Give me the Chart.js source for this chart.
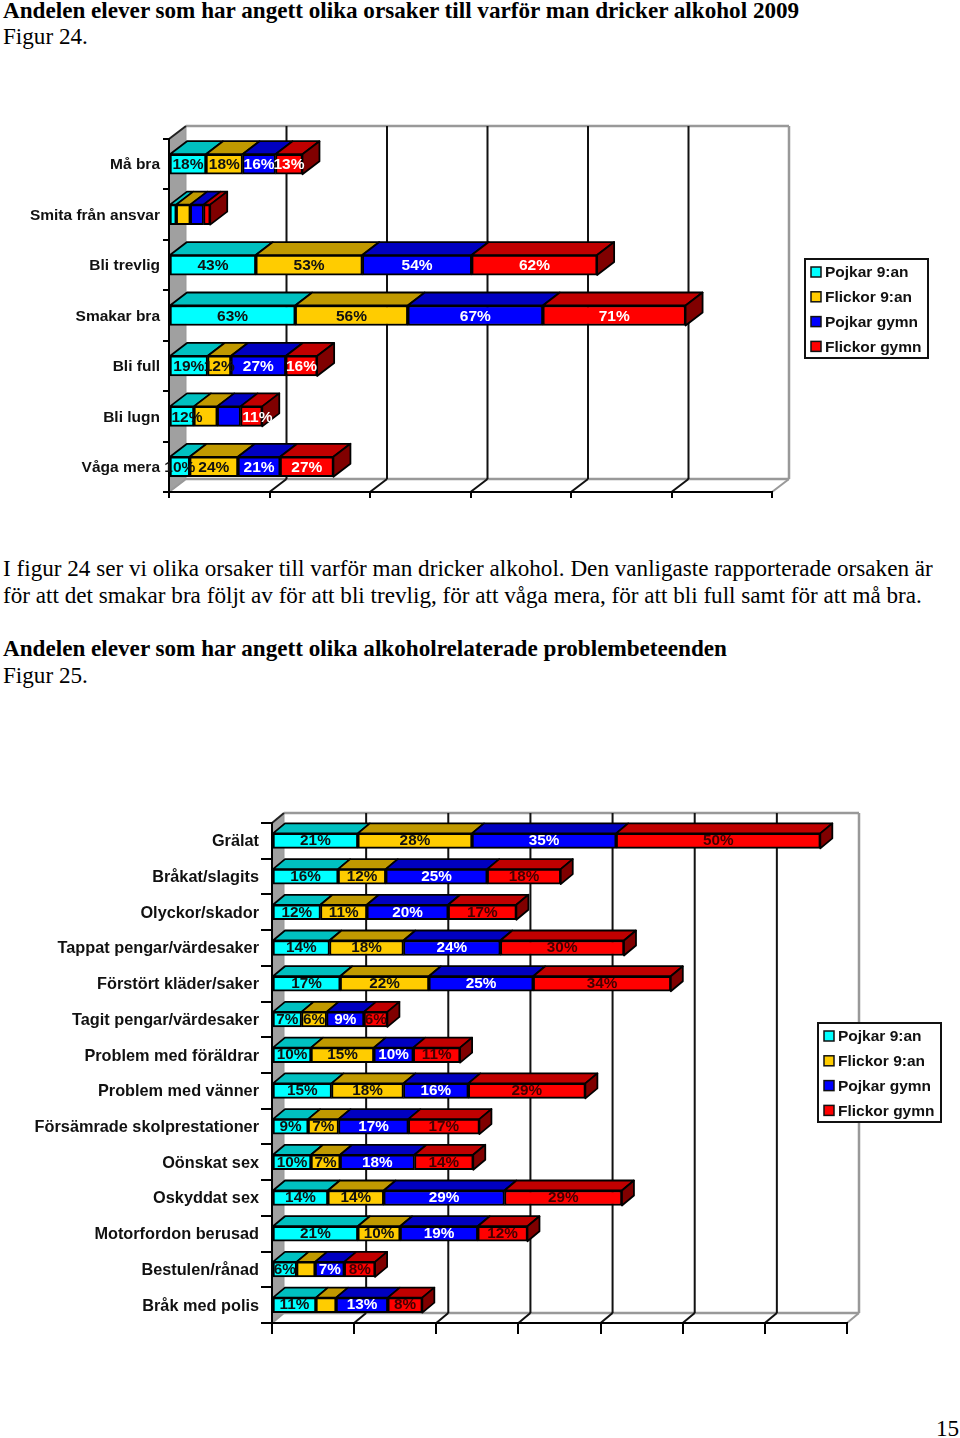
<!DOCTYPE html>
<html>
<head>
<meta charset="utf-8">
<script src="https://cdn.jsdelivr.net/npm/chart.js@4"></script>
<style>
html, body { margin: 0; padding: 0; background: #fff; }
#page { position: relative; width: 960px; height: 1438px; overflow: hidden; }
canvas { position: absolute; left: 0; }
.t { position: absolute; left: 3px; white-space: nowrap; font: 23.15px/26px "Liberation Serif", serif; color: #000; }
.b { font-weight: bold; }
</style>
</head>
<body>
<div id="page">
    <div class="t b" style="top:-3px">Andelen elever som har angett olika orsaker till varför man dricker alkohol 2009</div>
    <div class="t" style="top:23px">Figur 24.</div>
    <canvas id="chart1" width="960" height="410" style="top:100px"></canvas>
    <div class="t" style="top:555px">I figur 24 ser vi olika orsaker till varför man dricker alkohol. Den vanligaste rapporterade orsaken är</div>
    <div class="t" style="top:582px">för att det smakar bra följt av för att bli trevlig, för att våga mera, för att bli full samt för att må bra.</div>
    <div class="t b" style="top:635px">Andelen elever som har angett olika alkoholrelaterade problembeteenden</div>
    <div class="t" style="top:662px">Figur 25.</div>
    <canvas id="chart2" width="960" height="560" style="top:790px"></canvas>
    <div class="t" style="left:936px;top:1415px">15</div>
</div>
<script>
//======================================================================================================================
// Data
//======================================================================================================================

var seriesNames = ['Pojkar 9:an', 'Flickor 9:an', 'Pojkar gymn', 'Flickor gymn'];
var frontColors = ['#00FFFF', '#FFCC00', '#0000FF', '#FF0000'];
var topColors = ['#00C0C0', '#C09900', '#0000C0', '#C00000'];
var sideColors = ['#008080', '#806600', '#000080', '#800000'];

// Figur 24
var reasons = ['Må bra', 'Smita från ansvar', 'Bli trevlig', 'Smakar bra', 'Bli full', 'Bli lugn', 'Våga mera'];
var reasonsPojkar9 = [18.4, 3.6, 43.2, 62.8, 19.2, 12.4, 10.3];
var reasonsFlickor9 = [18.2, 7.0, 53.0, 56.0, 11.6, 11.6, 24.0];
var reasonsPojkarGymn = [16.4, 6.6, 54.4, 67.2, 27.3, 11.6, 21.0];
var reasonsFlickorGymn = [13.4, 3.3, 62.4, 71.0, 15.6, 10.8, 26.5];
var reasonsTicks = [0, 50, 100, 150, 200, 250, 300];
// "category:series" pairs printed without a value in the figure
var reasonsNoLabel = ['1:0', '1:1', '1:2', '1:3', '5:1', '5:2'];

// Figur 25
var problems = ['Grälat', 'Bråkat/slagits', 'Olyckor/skador', 'Tappat pengar/värdesaker', 'Förstört kläder/saker',
    'Tagit pengar/värdesaker', 'Problem med föräldrar', 'Problem med vänner', 'Försämrade skolprestationer',
    'Oönskat sex', 'Oskyddat sex', 'Motorfordon berusad', 'Bestulen/rånad', 'Bråk med polis'];
var problemsPojkar9 = [20.9, 16.1, 11.8, 14.0, 16.6, 7.2, 9.5, 14.5, 8.8, 9.5, 13.6, 20.9, 6.0, 10.7];
var problemsFlickor9 = [27.8, 11.6, 11.3, 18.0, 21.6, 6.1, 15.3, 17.5, 7.4, 7.1, 13.6, 10.3, 4.5, 4.9];
var problemsPojkarGymn = [35.1, 24.7, 19.8, 23.6, 25.4, 9.1, 9.6, 15.8, 17.0, 18.1, 29.4, 18.9, 7.1, 12.6];
var problemsFlickorGymn = [49.7, 17.9, 16.6, 30.1, 33.5, 5.7, 11.4, 28.5, 17.3, 14.3, 28.6, 12.1, 7.5, 8.4];
var problemsTicks = [0, 20, 40, 60, 80, 100, 120, 140];
var problemsNoLabel = ['12:1', '13:1'];

//======================================================================================================================
// 3D look: walls, bar sides, value labels and legend box
//======================================================================================================================

var fontName = '"Liberation Sans", Arial, sans-serif';

function polygon(ctx, points, fill, stroke, width) {
    ctx.beginPath();
    points.forEach(function(p, i) {
        if (i === 0) ctx.moveTo(p[0], p[1]); else ctx.lineTo(p[0], p[1]);
    });
    ctx.closePath();
    ctx.fillStyle = fill;
    ctx.fill();
    ctx.lineWidth = width;
    ctx.strokeStyle = stroke;
    ctx.lineJoin = 'round';
    ctx.stroke();
}

function line(ctx, x1, y1, x2, y2, color, width) {
    ctx.beginPath();
    ctx.moveTo(x1, y1);
    ctx.lineTo(x2, y2);
    ctx.strokeStyle = color;
    ctx.lineWidth = width;
    ctx.stroke();
}

var bar3d = {
    id: 'bar3d',
    beforeDraw: function(chart, args, opts) {
        var ctx = chart.ctx, a = chart.chartArea, dx = opts.dx, dy = opts.dy, xs = chart.scales.x;
        ctx.save();
        polygon(ctx, [[a.left, a.top], [a.left + dx, a.top - dy], [a.left + dx, a.bottom - dy], [a.left, a.bottom]], '#A0A0A0', '#999', 1);
        line(ctx, a.left + dx, a.top - dy, a.right + dx, a.top - dy, '#999', 2.5);
        line(ctx, a.right + dx, a.top - dy, a.right + dx, a.bottom - dy, '#999', 2.5);
        line(ctx, a.left + dx, a.bottom - dy, a.right + dx, a.bottom - dy, '#999', 2.5);
        line(ctx, a.right, a.bottom, a.right + dx, a.bottom - dy, '#999', 2);
        line(ctx, a.left, a.bottom, a.left + dx, a.bottom - dy, '#999', 2);
        line(ctx, a.left, a.top, a.left + dx, a.top - dy, '#222', 2);
        opts.ticks.forEach(function(v, i) {
            if (i === 0 || i === opts.ticks.length - 1) return;
            var x = xs.getPixelForValue(v);
            line(ctx, x + dx, a.top - dy, x + dx, a.bottom - dy, '#111', 2);
            line(ctx, x, a.bottom, x + dx, a.bottom - dy, '#111', 2);
        });
        ctx.restore();
    },
    beforeDatasetsDraw: function(chart, args, opts) {
        var ctx = chart.ctx, dx = opts.dx, dy = opts.dy, last = chart.data.datasets.length - 1;
        ctx.save();
        chart.data.datasets.forEach(function(ds, d) {
            chart.getDatasetMeta(d).data.forEach(function(el) {
                var top = el.y - el.height / 2, bottom = el.y + el.height / 2;
                polygon(ctx, [[el.base, top], [el.x, top], [el.x + dx, top - dy], [el.base + dx, top - dy]], topColors[d], '#000', 1.8);
                if (d === last) {
                    polygon(ctx, [[el.x, top], [el.x + dx, top - dy], [el.x + dx, bottom - dy], [el.x, bottom]], sideColors[d], '#000', 1.8);
                }
            });
        });
        ctx.restore();
    },
    afterDatasetsDraw: function(chart, args, opts) {
        var ctx = chart.ctx;
        ctx.save();
        ctx.font = 'bold ' + opts.valueSize + 'px ' + fontName;
        ctx.textAlign = 'center';
        ctx.textBaseline = 'middle';
        chart.data.datasets.forEach(function(ds, d) {
            chart.getDatasetMeta(d).data.forEach(function(el, i) {
                var key = i + ':' + d;
                if (opts.noLabel.indexOf(key) !== -1) return;
                ctx.fillStyle = opts.labelColors[d];
                // a couple of labels sit off centre in the figure
                ctx.fillText(Math.round(ds.data[i]) + '%', (el.x + el.base) / 2 + (opts.nudge[key] || 0), el.y + opts.valueDy);
            });
        });
        ctx.restore();
    },
    afterDraw: function(chart, args, opts) {
        var ctx = chart.ctx, box = opts.legend;
        ctx.save();
        ctx.fillStyle = '#fff';
        ctx.fillRect(box.x, box.y, box.w, box.h);
        ctx.lineWidth = 2;
        ctx.strokeStyle = '#111';
        ctx.strokeRect(box.x, box.y, box.w, box.h);
        ctx.font = 'bold 15.5px ' + fontName;
        ctx.textBaseline = 'middle';
        chart.data.datasets.forEach(function(ds, d) {
            var cy = box.y + 13 + d * 24.8;
            ctx.fillStyle = frontColors[d];
            ctx.fillRect(box.x + 6, cy - 5, 10, 10);
            ctx.lineWidth = 1.5;
            ctx.strokeRect(box.x + 6, cy - 5, 10, 10);
            ctx.fillStyle = '#111';
            ctx.fillText(ds.label, box.x + 20, cy + 1);
        });
        ctx.restore();
    }
};

//======================================================================================================================
// Charts
//======================================================================================================================

function stackedBars(id, categories, series, o) {
    new Chart(document.getElementById(id), {
        type: 'bar',
        plugins: [bar3d],
        data: {
            labels: categories,
            datasets: series.map(function(values, i) {
                return {
                    label: seriesNames[i],
                    data: values,
                    backgroundColor: frontColors[i],
                    borderColor: '#000',
                    borderWidth: 2,
                    borderSkipped: false,
                    barThickness: o.bar
                };
            })
        },
        options: {
            indexAxis: 'y',
            responsive: false,
            animation: false,
            devicePixelRatio: 1,
            layout: { autoPadding: false, padding: o.padding },
            plugins: {
                legend: { display: false },
                tooltip: { enabled: false },
                bar3d: {
                    dx: o.dx, dy: o.dy, ticks: o.ticks, noLabel: o.noLabel, nudge: o.nudge,
                    labelColors: o.labelColors, legend: o.legend, valueSize: o.valueSize, valueDy: o.valueDy
                }
            },
            scales: {
                x: {
                    stacked: true,
                    min: o.ticks[0],
                    max: o.ticks[o.ticks.length - 1],
                    afterBuildTicks: function(scale) {
                        scale.ticks = o.ticks.map(function(v) { return { value: v }; });
                    },
                    afterFit: function(scale) { scale.height = 8; },
                    ticks: { display: false },
                    grid: { drawOnChartArea: false, color: '#000', lineWidth: 2, tickLength: o.tick },
                    border: { color: '#000', width: 2 }
                },
                y: {
                    stacked: true,
                    afterFit: function(scale) { scale.width = o.axisLeft; },
                    ticks: {
                        color: '#111',
                        padding: o.labelPad,
                        labelOffset: 1,
                        autoSkip: false,
                        font: { family: fontName, size: o.labelSize, weight: 'bold' }
                    },
                    grid: { drawOnChartArea: false, color: '#000', lineWidth: 2, tickLength: o.tick },
                    border: { color: '#000', width: 2 }
                }
            }
        }
    });
}

stackedBars('chart1', reasons,
    [reasonsPojkar9, reasonsFlickor9, reasonsPojkarGymn, reasonsFlickorGymn], {
    bar: 20, dx: 17, dy: 13, tick: 6, labelPad: 3, axisLeft: 169, labelSize: 15.5, valueSize: 15.5, valueDy: 1,
    padding: { top: 39, bottom: 10, left: 0, right: 188 },
    ticks: reasonsTicks, noLabel: reasonsNoLabel, nudge: { '5:0': 5, '5:3': 6 },
    labelColors: ['#111', '#111', '#fff', '#fff'],
    legend: { x: 805, y: 159, w: 123, h: 99 }
});

stackedBars('chart2', problems,
    [problemsPojkar9, problemsFlickor9, problemsPojkarGymn, problemsFlickorGymn], {
    bar: 15, dx: 12, dy: 10, tick: 11, labelPad: 2, axisLeft: 272, labelSize: 16.3, valueSize: 15.3, valueDy: 0,
    padding: { top: 33, bottom: 19, left: 0, right: 113 },
    ticks: problemsTicks, noLabel: problemsNoLabel, nudge: {},
    labelColors: ['#111', '#111', '#fff', '#400'],
    legend: { x: 818, y: 233, w: 123, h: 99 }
});
</script>
</body>
</html>
